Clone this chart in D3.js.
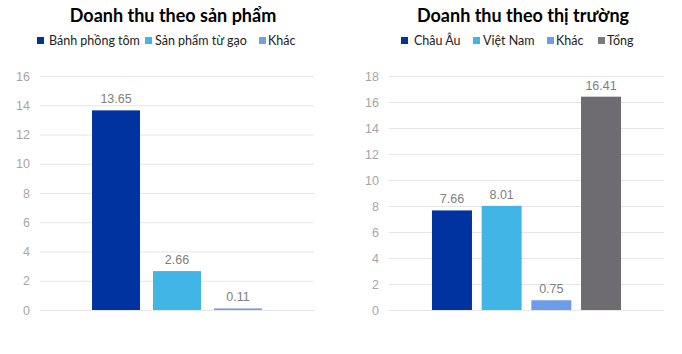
<!DOCTYPE html>
<html><head><meta charset="utf-8">
<script src="https://cdn.jsdelivr.net/npm/d3@7/dist/d3.min.js"></script>
<style>body{margin:0;background:#fff}svg{display:block}</style>
</head><body>
<svg id="c" width="682" height="354"></svg>
<script>
// Chart 1: revenue by product
const cats1 = ["Bánh phồng tôm", "Sản phẩm từ gạo", "Khác"];
const vals1 = [13.65, 2.66, 0.11];
const ticks1 = [0, 2, 4, 6, 8, 10, 12, 14, 16];
// Chart 2: revenue by market
const cats2 = ["Châu Âu", "Việt Nam", "Khác", "Tổng"];
const vals2 = [7.66, 8.01, 0.75, 16.41];
const ticks2 = [0, 2, 4, 6, 8, 10, 12, 14, 16, 18];

const colors1 = ["#0033a0", "#41b6e6", "#7a9fd9"];
const colors2 = ["#0033a0", "#41b6e6", "#6d9ceb", "#6e6c70"];

const svg = d3.select("#c");
const titleFont = "Lato, 'Open Sans', sans-serif";
const numFont = "'Liberation Sans', Arial, sans-serif";

function drawChart(cfg) {
  const g = svg.append("g");
  const y = d3.scaleLinear().domain([0, cfg.max]).range([310, 76]);
  const x = d3.scaleBand().domain(cfg.cats).range([cfg.x0, cfg.x1])
    .paddingInner(cfg.pi).paddingOuter(cfg.po);

  // gridlines
  g.append("g").selectAll("line").data(cfg.ticks).join("line")
    .attr("x1", cfg.x0).attr("x2", cfg.x1)
    .attr("y1", d => y(d) + 0.5).attr("y2", d => y(d) + 0.5)
    .attr("stroke", "#e6e6e6").attr("stroke-width", 1);

  // axis labels
  const ax = d3.axisLeft(y).tickValues(cfg.ticks).tickSize(0).tickPadding(0);
  const axg = g.append("g").attr("transform", `translate(${cfg.labelX},0)`).call(ax);
  axg.select(".domain").remove();
  axg.selectAll("text").attr("fill", "#a6a6a6").attr("font-size", 12.5)
    .attr("font-family", numFont);

  // bars
  g.append("g").selectAll("rect").data(cfg.cats).join("rect")
    .attr("x", d => x(d)).attr("width", x.bandwidth())
    .attr("y", (d, i) => y(cfg.vals[i]))
    .attr("height", (d, i) => y(0) - y(cfg.vals[i]))
    .attr("fill", (d, i) => cfg.colors[i]);

  // value labels
  g.append("g").selectAll("text").data(cfg.cats).join("text")
    .attr("x", d => x(d) + x.bandwidth() / 2)
    .attr("y", (d, i) => y(cfg.vals[i]) - 7)
    .attr("text-anchor", "middle")
    .attr("font-family", numFont).attr("font-size", 12.5)
    .attr("fill", "#808080")
    .text((d, i) => cfg.vals[i].toFixed(2));

  // title
  g.append("text").attr("x", cfg.titleX).attr("y", 22)
    .attr("text-anchor", "middle").attr("font-family", titleFont)
    .attr("font-weight", "bold").attr("font-size", 18).attr("fill", "#000")
    .text(cfg.title);

  // legend
  const lg = g.append("g").selectAll("g").data(cfg.cats).join("g")
    .attr("transform", (d, i) => `translate(${cfg.legendX[i]},0)`);
  lg.append("rect").attr("x", 0).attr("y", 37).attr("width", 7).attr("height", 7)
    .attr("fill", (d, i) => cfg.legendColors[i]);
  lg.append("text").attr("x", (d, i) => cfg.legendGap[i]).attr("y", 44.5)
    .attr("font-family", titleFont).attr("font-size", 12.5).attr("fill", "#222")
    .text(d => d);
}

drawChart({
  cats: cats1, vals: vals1, ticks: ticks1, max: 16, colors: colors1,
  legendColors: ["#0033a0", "#41b6e6", "#7a9fd9"],
  x0: 40, x1: 314, pi: 0.213, po: 0.853, labelX: 30,
  title: "Doanh thu theo sản phẩm", titleX: 173,
  legendX: [37, 145, 259], legendGap: [12, 10, 9]
});
drawChart({
  cats: cats2, vals: vals2, ticks: ticks2, max: 18, colors: colors2,
  legendColors: ["#0033a0", "#41b6e6", "#6d9ceb", "#7a7a7a"],
  x0: 389, x1: 664, pi: 0.195, po: 0.865, labelX: 379,
  title: "Doanh thu theo thị trường", titleX: 523,
  legendX: [401, 473, 547, 598], legendGap: [13, 10, 9, 9]
});
</script>
</body></html>
